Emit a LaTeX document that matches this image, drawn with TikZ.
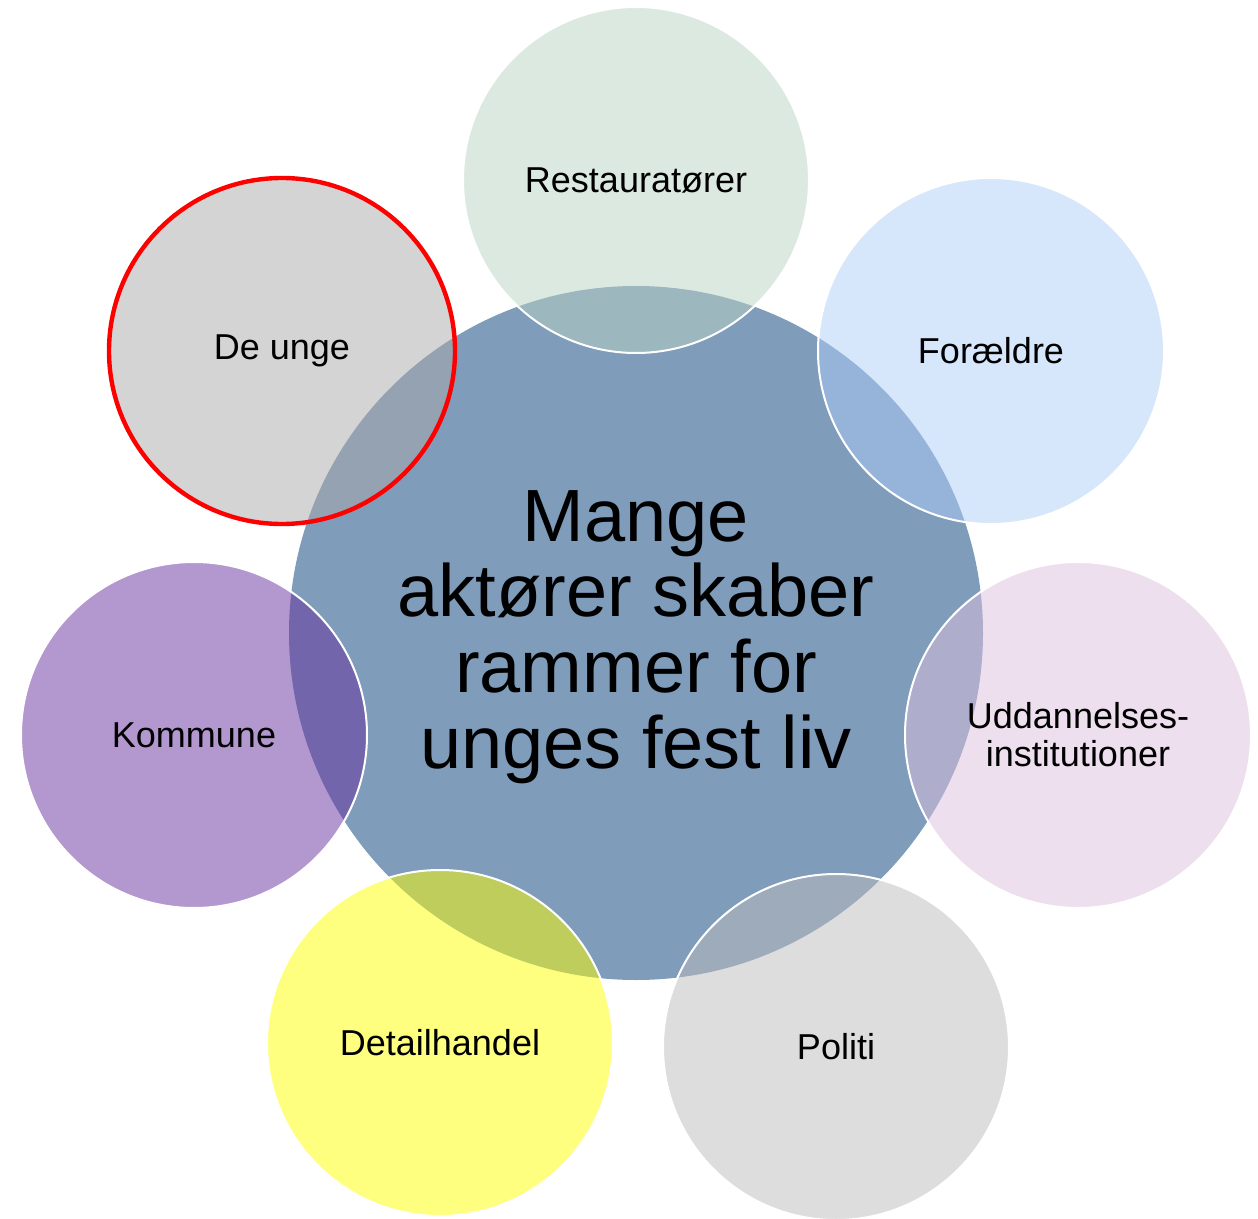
\documentclass[tikz,border=0pt]{standalone}
\usepackage{fontspec}
\setmainfont{Liberation Sans}
\usepackage{tikz}
\usetikzlibrary{positioning}
\usepackage{xcolor}

\definecolor{hubblue}{HTML}{7F9CBB}
\definecolor{restgreen}{HTML}{B9D3C1}
\definecolor{parentblue}{HTML}{ADCDF7}
\definecolor{schoolpink}{HTML}{DDBFDD}
\definecolor{policegray}{HTML}{BBBBBB}
\definecolor{retailyellow}{HTML}{FFFF00}
\definecolor{munipurple}{HTML}{672F9F}
\definecolor{youthgray}{HTML}{A9A9A9}

\begin{document}
\begin{tikzpicture}[
  x=0.5pt, y=-0.5pt,
  hub/.style={
    circle, fill=hubblue, minimum size=347pt, inner sep=0pt
  },
  hubtext/.style={
    align=center, font=\fontsize{37}{37.8}\selectfont
  },
  actor/.style={
    circle, draw=white, line width=1pt, fill opacity=0.5,
    text opacity=1, minimum size=173pt, inner sep=0pt,
    align=center, font=\fontsize{18}{19}\selectfont
  },
  marked/.style={draw=red, line width=2.2pt}
]
\useasboundingbox (0,0) rectangle (1258,1219);

% Central circle
\node[hub] (hub) at (636,633) {};
\node[hubtext] (hublabel) at (636,637) {Mange\\aktører skaber\\rammer for\\unges fest liv};

% Actors around it
\node[actor, fill=restgreen] (rest) at (636,180) {Restauratører};
\node[actor, fill=parentblue] (parent) at (991,351) {Forældre};
\node[actor, fill=schoolpink] (school) at (1078,735) {Uddannelses-\\institutioner};
\node[actor, fill=policegray] (police) at (836,1047) {Politi};
\node[actor, fill=retailyellow] (retail) at (440,1043) {Detailhandel};
\node[actor, fill=munipurple] (muni) at (194,735) {Kommune};
\node[actor, marked, fill=youthgray] (youth) at (282,351) {De unge};

\end{tikzpicture}
\end{document}
